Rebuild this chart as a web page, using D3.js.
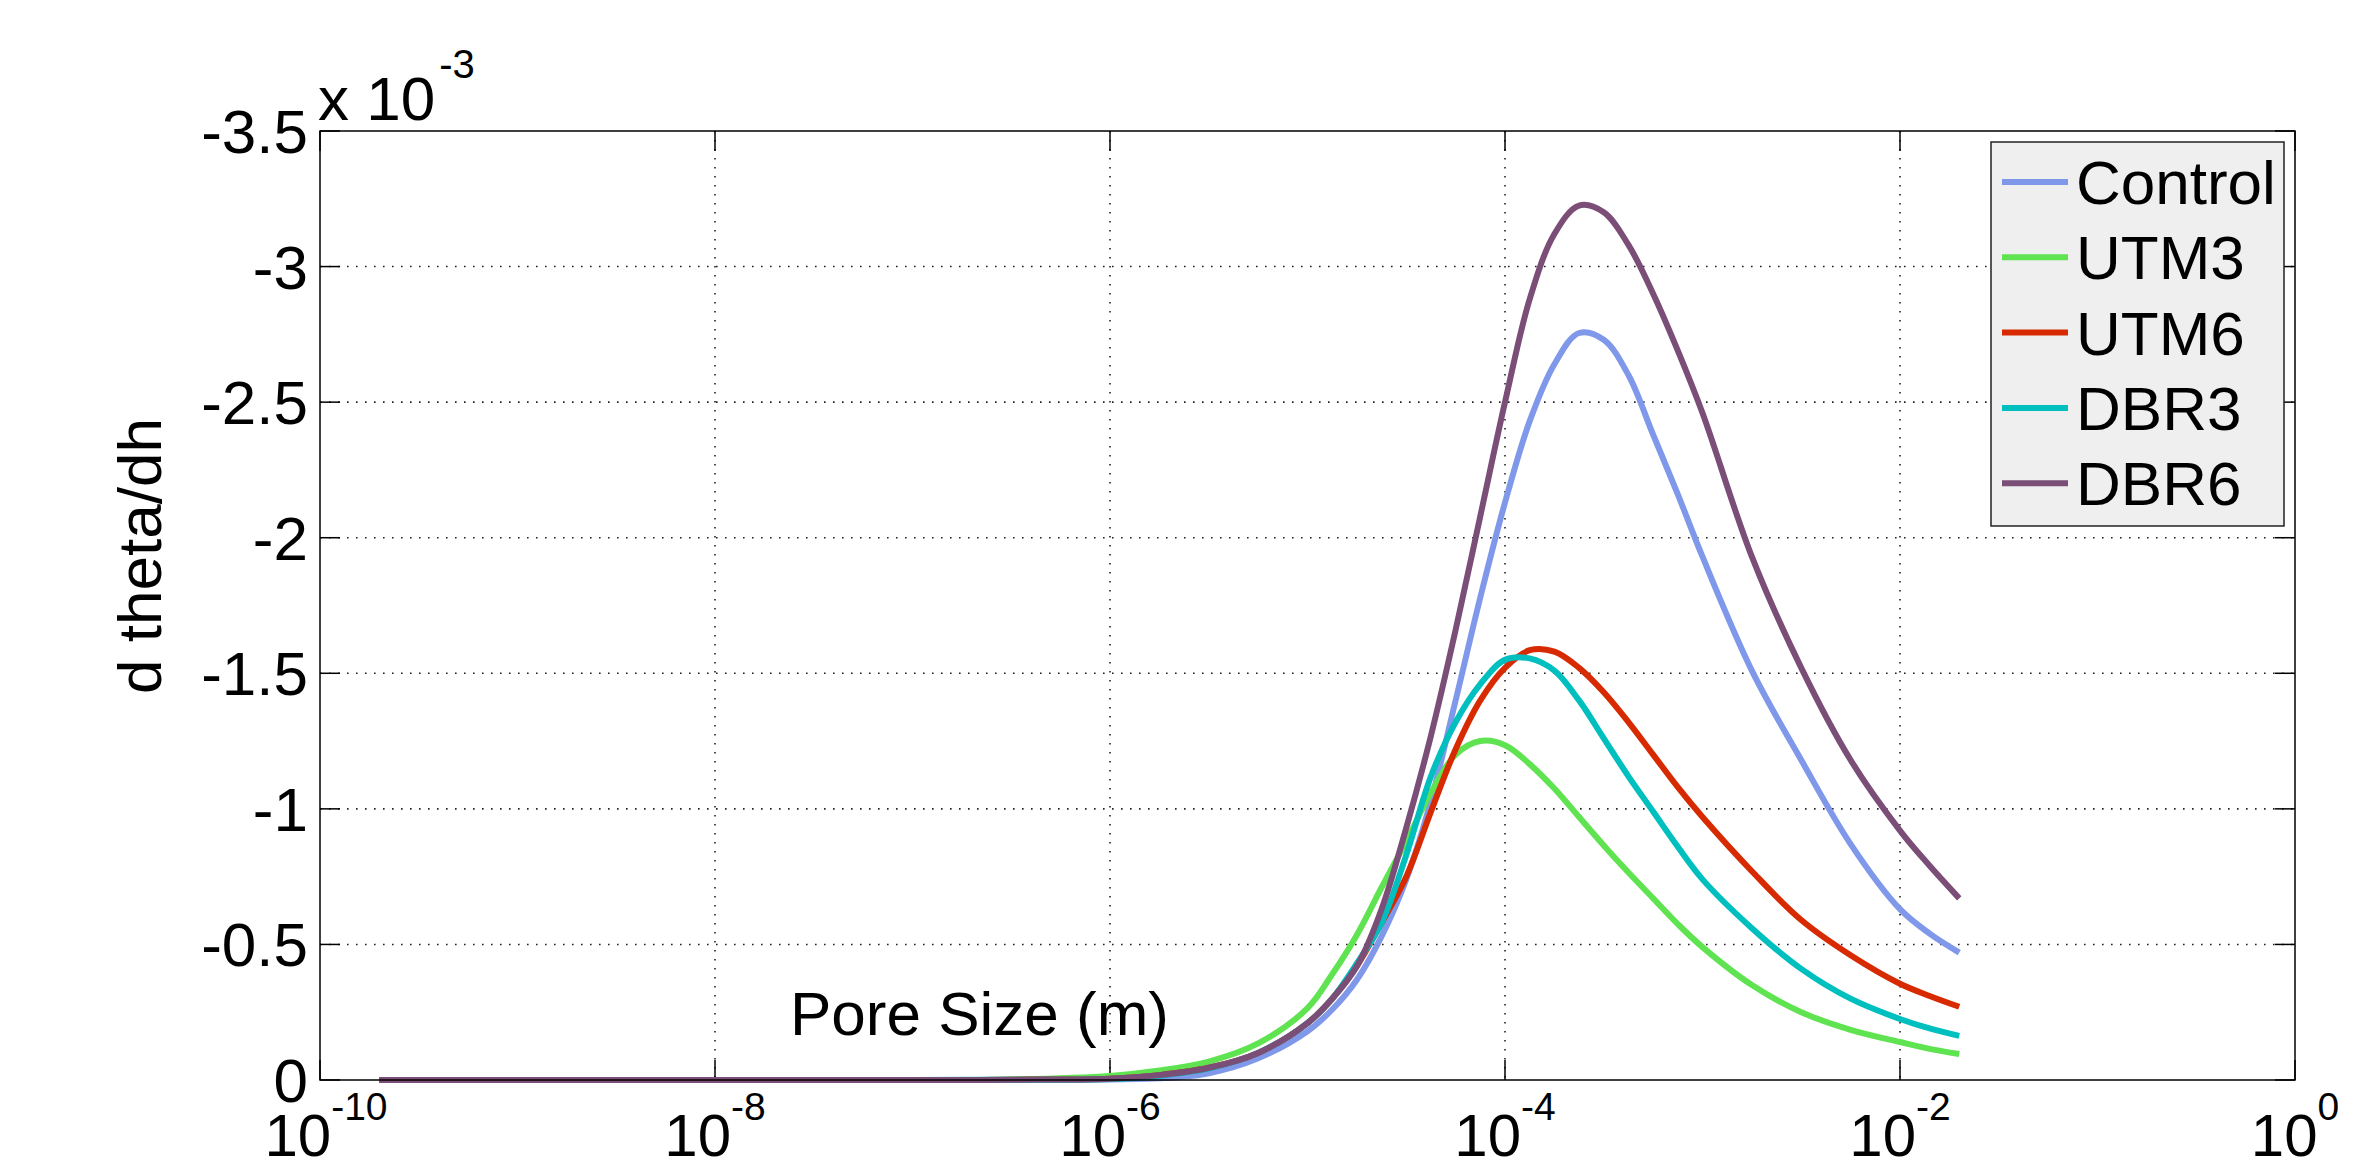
<!DOCTYPE html>
<meta charset="utf-8">
<script src="https://d3js.org/d3.v7.min.js"></script>
<style>
    body { margin: 0; background: #fff; }
    text { font-family: "Liberation Sans", Arial, sans-serif; fill: #000; }
</style>
<svg id="chart" width="2364" height="1168"></svg>
<script>
    // pore size as log10(m), and d theta/dh in units of 1e-3
    const logSize = [-9.7, -7, -6.5, -6, -5.75, -5.5, -5.25, -5, -4.875, -4.75, -4.625, -4.5, -4.375, -4.25, -4.125,
        -4, -3.875, -3.75, -3.625, -3.5, -3.375, -3.25, -3.125, -3, -2.75, -2.5, -2.25, -2, -1.85, -1.7];

    const control = [0, 0, 0, -0.002, -0.006, -0.025, -0.08, -0.18, -0.26, -0.37, -0.53, -0.74, -1.03, -1.40, -1.78,
        -2.13, -2.43, -2.64, -2.755, -2.73, -2.6, -2.38, -2.16, -1.93, -1.51, -1.18, -0.87, -0.63, -0.54, -0.47];
    const utm3 = [0, 0, -0.002, -0.015, -0.035, -0.068, -0.135, -0.265, -0.39, -0.535, -0.71, -0.88, -1.06, -1.20, -1.25,
        -1.235, -1.165, -1.075, -0.97, -0.865, -0.765, -0.67, -0.575, -0.49, -0.35, -0.25, -0.185, -0.14, -0.115, -0.096];
    const utm6 = [0, 0, -0.001, -0.005, -0.018, -0.045, -0.10, -0.21, -0.30, -0.42, -0.58, -0.75, -0.99, -1.22, -1.40,
        -1.52, -1.585, -1.58, -1.52, -1.43, -1.32, -1.2, -1.08, -0.97, -0.77, -0.59, -0.46, -0.355, -0.31, -0.27];
    const dbr3 = [0, 0, -0.001, -0.004, -0.016, -0.043, -0.10, -0.21, -0.30, -0.43, -0.58, -0.83, -1.12, -1.32, -1.46,
        -1.55, -1.555, -1.51, -1.40, -1.26, -1.12, -0.99, -0.86, -0.74, -0.56, -0.41, -0.3, -0.225, -0.19, -0.163];
    const dbr6 = [0, 0, -0.001, -0.005, -0.018, -0.045, -0.10, -0.21, -0.30, -0.42, -0.63, -0.93, -1.27, -1.66, -2.08,
        -2.5, -2.88, -3.12, -3.225, -3.2, -3.08, -2.9, -2.69, -2.46, -1.93, -1.52, -1.18, -0.92, -0.79, -0.67];

    const seriesNames = ["Control", "UTM3", "UTM6", "DBR3", "DBR6"];
    const seriesValues = [control, utm3, utm6, dbr3, dbr6];
    const seriesColors = ["#7f98ea", "#5fe350", "#d82a00", "#00bfbf", "#7a4e77"];

    const xTickExp = [-10, -8, -6, -4, -2, 0];
    const yTicks = [0, -0.5, -1, -1.5, -2, -2.5, -3, -3.5];

    const plotL = 320, plotR = 2295, plotT = 131, plotB = 1080;

    const x = d3.scaleLog().domain([1e-10, 1]).range([plotL, plotR]);
    const y = d3.scaleLinear().domain([0, -3.5]).range([plotB, plotT]);

    const svg = d3.select("#chart");

    // grid
    const grid = svg.append("g")
        .attr("stroke", "#222")
        .attr("stroke-width", 1.6)
        .attr("stroke-dasharray", "1.6,7.4");
    grid.selectAll(".gx").data(xTickExp.slice(1, -1)).join("line")
        .attr("x1", d => x(Math.pow(10, d))).attr("x2", d => x(Math.pow(10, d)))
        .attr("y1", plotT).attr("y2", plotB);
    grid.selectAll(".gy").data(yTicks.slice(1, -1)).join("line")
        .attr("x1", plotL).attr("x2", plotR)
        .attr("y1", d => y(d)).attr("y2", d => y(d));

    // tick marks, inside on all four sides
    const tickLen = 20;
    const ticks = svg.append("g").attr("stroke", "#000").attr("stroke-width", 1.5);
    xTickExp.forEach(e => {
        const px = x(Math.pow(10, e));
        ticks.append("line").attr("x1", px).attr("x2", px).attr("y1", plotB).attr("y2", plotB - tickLen);
        ticks.append("line").attr("x1", px).attr("x2", px).attr("y1", plotT).attr("y2", plotT + tickLen);
    });
    yTicks.forEach(v => {
        ticks.append("line").attr("x1", plotL).attr("x2", plotL + tickLen).attr("y1", y(v)).attr("y2", y(v));
        ticks.append("line").attr("x1", plotR).attr("x2", plotR - tickLen).attr("y1", y(v)).attr("y2", y(v));
    });

    // curves
    const line = d3.line()
        .x((d, i) => x(Math.pow(10, logSize[i])))
        .y(d => y(d))
        .curve(d3.curveCatmullRom.alpha(0.5));

    seriesValues.forEach((vals, k) => {
        svg.append("path")
            .datum(vals)
            .attr("d", line)
            .attr("fill", "none")
            .attr("stroke", seriesColors[k])
            .attr("stroke-width", 6)
            .attr("stroke-linejoin", "round");
    });

    // box
    svg.append("rect")
        .attr("x", plotL).attr("y", plotT)
        .attr("width", plotR - plotL).attr("height", plotB - plotT)
        .attr("fill", "none").attr("stroke", "#000").attr("stroke-width", 1.5);

    // y tick labels
    svg.selectAll(".ylab").data(yTicks).join("text")
        .attr("x", plotL - 12)
        .attr("y", d => y(d) + 22)
        .attr("text-anchor", "end")
        .style("font-size", "62px")
        .text(d => String(d));

    // x tick labels 10^n
    xTickExp.forEach(e => {
        const t = svg.append("text")
            .attr("x", x(Math.pow(10, e)) + (e === -10 ? 6 : 0))
            .attr("y", 1156)
            .attr("text-anchor", "middle")
            .style("font-size", "60px");
        t.append("tspan").text("10");
        t.append("tspan").attr("dy", -36).style("font-size", "39px").text(String(e));
    });

    // exponent note
    const note = svg.append("text").attr("x", 318).attr("y", 120).style("font-size", "62px");
    note.append("tspan").text("x 10");
    note.append("tspan").attr("dy", -42).attr("dx", 4).style("font-size", "40px").text("-3");

    // axis labels
    svg.append("text")
        .attr("transform", "translate(161,556) rotate(-90)")
        .attr("text-anchor", "middle")
        .style("font-size", "62px")
        .text("d theta/dh");

    svg.append("text")
        .attr("x", 790).attr("y", 1035)
        .style("font-size", "62px")
        .text("Pore Size (m)");

    // legend
    const lg = svg.append("g");
    lg.append("rect")
        .attr("x", 1991).attr("y", 142).attr("width", 293).attr("height", 384)
        .attr("fill", "#efefef").attr("stroke", "#222").attr("stroke-width", 1.5);
    seriesNames.forEach((name, k) => {
        const cy = 182 + k * 75.3;
        lg.append("line")
            .attr("x1", 2002).attr("x2", 2068).attr("y1", cy).attr("y2", cy)
            .attr("stroke", seriesColors[k]).attr("stroke-width", 6);
        lg.append("text")
            .attr("x", 2076).attr("y", cy + 22)
            .style("font-size", "62px")
            .text(name);
    });
</script>
